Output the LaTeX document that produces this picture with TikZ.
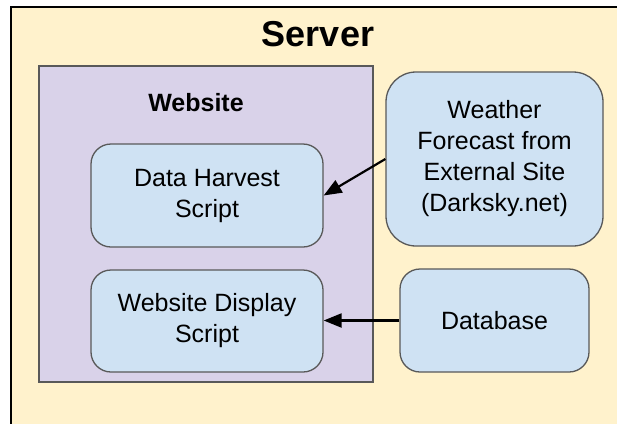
\documentclass[tikz,border=0pt]{standalone}
\usepackage{fontspec}
\setmainfont{Liberation Sans}
\usetikzlibrary{arrows.meta}
\definecolor{srvfill}{HTML}{FFF2CC}
\definecolor{webfill}{HTML}{D9D2E9}
\definecolor{boxfill}{HTML}{CFE2F3}
\definecolor{edge}{HTML}{595959}
\tikzset{
  block/.style={draw=edge, line width=1.3pt, fill=boxfill, rounded corners=20pt,
    align=center, inner sep=0pt, font=\fontsize{25}{31}\selectfont},
  flow/.style={line width=2.2pt, -{Triangle[length=18pt,width=14pt]}},
  titletext/.style={font=\bfseries\fontsize{#1}{#1}\selectfont, inner sep=0pt},
}
\begin{document}
\begin{tikzpicture}[x=1pt,y=-1pt]
  \useasboundingbox (0,0) rectangle (617,423);
  \fill[white] (0,0) rectangle (617,423);
  \clip (0,0) rectangle (617,423);

  % server container (runs off the right and bottom edges)
  \draw[fill=srvfill, line width=2.5pt] (11,7) rectangle (640,450);
  \node (servertitle) [titletext=36] at (318,34.5) {Server};

  % website container
  \draw[fill=webfill, draw=edge, line width=1.3pt] (39,66) rectangle (373,382);
  \node (webtitle) [titletext=25] at (196,102.5) {Website};

  % components
  \node (harvest) [block, minimum width=232pt, minimum height=103pt]
    at (207,195.5) {Data Harvest\\Script};
  \node (display) [block, minimum width=232pt, minimum height=102pt]
    at (207,321) {Website Display\\Script};
  \node (weather) [block, rounded corners=30pt, minimum width=217pt, minimum height=174pt]
    at (494.5,159) {Weather\\Forecast from\\External Site\\(Darksky.net)};
  \node (database) [block, minimum width=189pt, minimum height=103pt]
    at (494.5,320.5) {Database};

  % data flow
  \draw[flow] (weather.west) -- (harvest.east);
  \draw[flow] (database.west) -- (database.west -| display.east);
\end{tikzpicture}
\end{document}
